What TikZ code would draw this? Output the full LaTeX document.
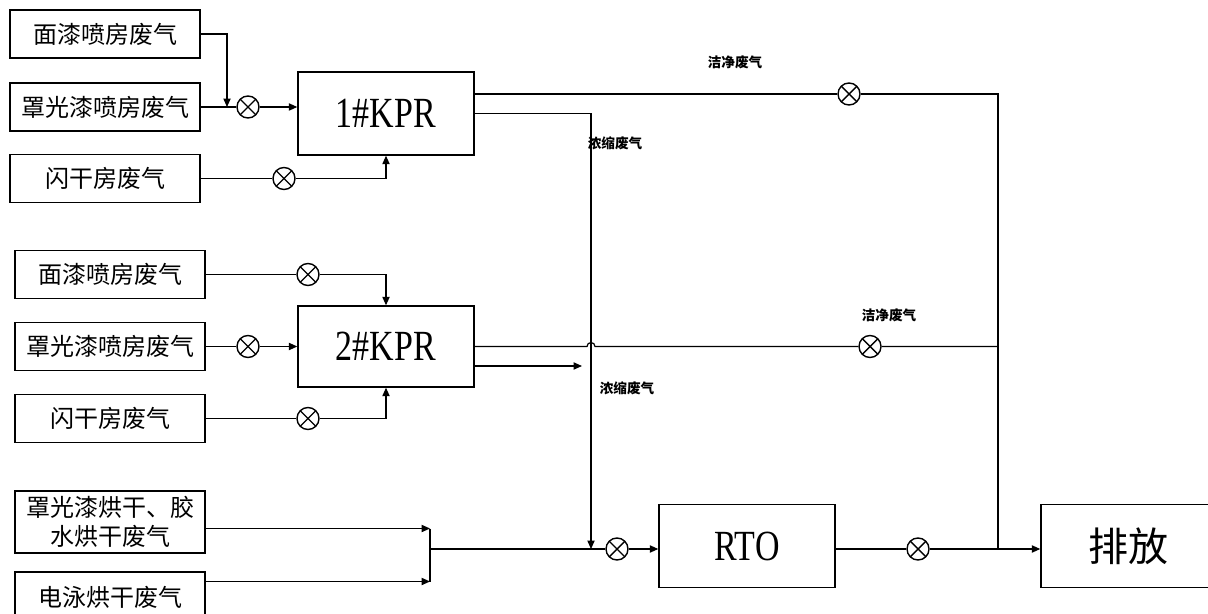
\documentclass[tikz,border=0pt]{standalone}
\usepackage{fontspec}
\setmainfont{Liberation Serif}
\newfontfamily\cjk{Noto Sans CJK SC}
\usetikzlibrary{arrows.meta}
\begin{document}
\begin{tikzpicture}[x=0.5pt,y=-0.5pt,
  box/.style={draw,line width=0.7pt,inner sep=0pt,minimum width=95pt,minimum height=24pt,
    font=\cjk\fontsize{12pt}{14.5pt}\selectfont,align=center},
  unit/.style={draw,line width=0.7pt,inner sep=0pt,minimum width=88pt,minimum height=41.5pt,
    font=\fontsize{21.5pt}{24pt}\selectfont},
  conn/.style={line width=0.6pt},
  arr/.style={line width=0.6pt,-{Triangle[length=4.2pt,width=3.6pt]}},
  valve/.style={circle,draw,line width=0.7pt,fill=white,minimum size=11pt,inner sep=0pt,
    path picture={\draw[line width=0.7pt]
      (path picture bounding box.north west)--(path picture bounding box.south east)
      (path picture bounding box.north east)--(path picture bounding box.south west);}},
  lbl/.style={font=\cjk\bfseries\fontsize{6.8pt}{8pt}\selectfont,inner sep=0pt}
]
\useasboundingbox (0,0) rectangle (1208,614);

% boxes
\node[box] (a1) at (105,34) {面漆喷房废气};
\node[box] (a2) at (105,107) {罩光漆喷房废气};
\node[box] (a3) at (105,178.5) {闪干房废气};
\node[unit] (kpr1) at (386,113.5) {\scalebox{0.79}[1]{1\#KPR}};

\node[box] (b1) at (110,274.5) {面漆喷房废气};
\node[box] (b2) at (110,346.5) {罩光漆喷房废气};
\node[box] (b3) at (110,418.5) {闪干房废气};
\node[unit,minimum height=40.5pt] (kpr2) at (386,346.5) {\scalebox{0.79}[1]{2\#KPR}};

\node[box,minimum height=31pt] (c1) at (110,522) {罩光漆烘干、胶\\水烘干废气};
\node[box,minimum height=25pt] (c2) at (110,597) {电泳烘干废气};

\node[unit] (rto) at (747,546) {\scalebox{0.79}[1]{RTO}};
\node[unit,minimum width=87pt,font=\cjk\fontsize{20pt}{24pt}\selectfont] (pf) at (1128,546) {排放};

% valves
\node[valve] (v1) at (248,107) {};
\node[valve] (v2) at (284,178.5) {};
\node[valve] (v3) at (849,94) {};
\node[valve] (v4) at (308,274.5) {};
\node[valve] (v5) at (248,346.5) {};
\node[valve] (v6) at (308,418.5) {};
\node[valve] (v7) at (870,346.5) {};
\node[valve] (v8) at (617,549) {};
\node[valve] (v9) at (918,549) {};

% helper coordinates
\coordinate (m1) at (227,107);
\coordinate (o1) at (474,94);
\coordinate (r1) at (998,94);
\coordinate (r2) at (998,549);
\coordinate (j1) at (591,549);
\coordinate (h1) at (587,346.5);
\coordinate (e2) at (582,366);
\coordinate (k1) at (430,528.5);
\coordinate (k2) at (430,581.5);
\coordinate (k3) at (430,549);

% 1#KPR inputs
\draw[arr] (a1.east) -| (m1);
\draw[conn] (a2.east) -- (v1);
\draw[arr] (v1) -- (v1 -| kpr1.west);
\draw[conn] (a3.east) -- (v2);
\draw[arr] (v2) -| (kpr1.south);

% 1#KPR outputs
\draw[conn] (o1) -- (v3) -- (r1) -- (r2);
\draw[arr] (kpr1.east) -| (j1);

% 2#KPR inputs
\draw[conn] (b1.east) -- (v4);
\draw[arr] (v4) -| (kpr2.north);
\draw[conn] (b2.east) -- (v5);
\draw[arr] (v5) -- (kpr2.west);
\draw[conn] (b3.east) -- (v6);
\draw[arr] (v6) -| (kpr2.south);

% 2#KPR outputs
\draw[conn] (kpr2.east) -- (h1) arc (180:360:4) -- (v7) -- (v7 -| r1);
\draw[arr] (kpr2.east |- e2) -- (e2);

% drying gases
\draw[arr] (c1.east |- k1) -- (k1);
\draw[arr] (c2.east |- k2) -- (k2);
\draw[conn] (k1) -- (k2);
\draw[conn] (k3) -- (v8);
\draw[arr] (v8) -- (v8 -| rto.west);
\draw[conn] (rto.east |- v9) -- (v9);
\draw[arr] (v9) -- (v9 -| pf.west);

% labels
\node[lbl] (l1) at (735,62) {洁净废气};
\node[lbl] (l2) at (615,143) {浓缩废气};
\node[lbl] (l3) at (889,315) {洁净废气};
\node[lbl] (l4) at (627,388) {浓缩废气};
\end{tikzpicture}
\end{document}
